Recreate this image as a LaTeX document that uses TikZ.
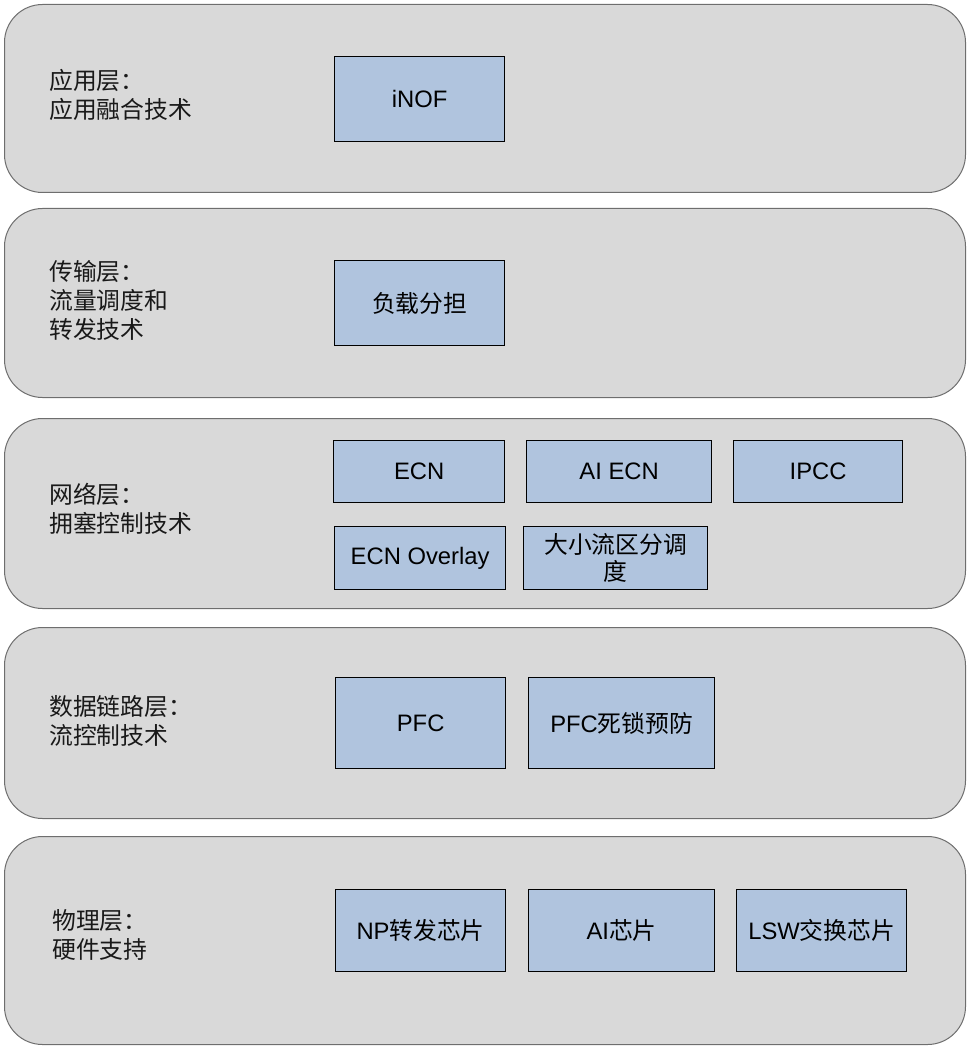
\documentclass[tikz,border=0pt]{standalone}
\usepackage{fontspec}
\setmainfont{Liberation Sans}
\newfontfamily\cjk{Noto Sans CJK SC}
\definecolor{layerfill}{HTML}{D9D9D9}
\definecolor{layerline}{HTML}{6E6E6E}
\definecolor{boxfill}{HTML}{B0C4DE}
\begin{document}
\begin{tikzpicture}[x=1pt,y=-1pt,
  layer/.style={draw=layerline,fill=layerfill,line width=1pt,rounded corners=38pt,anchor=north west,inner sep=0pt},
  techbox/.style={draw=black,fill=boxfill,line width=1.3pt,anchor=north west,inner sep=0pt,align=center,
    font=\fontsize{23.8}{27}\selectfont},
  lbl/.style={anchor=west,align=left,inner sep=0pt,text=black!90,font=\fontsize{23.8}{29}\selectfont\cjk}]
\useasboundingbox (0,0) rectangle (972,1048);
% layers
\node[layer,minimum width=961pt,minimum height=188pt] (L1) at (4,4) {};
\node[layer,minimum width=961pt,minimum height=189pt] (L2) at (4,208) {};
\node[layer,minimum width=961pt,minimum height=190pt] (L3) at (4,418) {};
\node[layer,minimum width=961pt,minimum height=191pt] (L4) at (4,627) {};
\node[layer,minimum width=961pt,minimum height=208pt] (L5) at (4,836) {};
% labels
\node[lbl] (T1) at (49,95) {应用层：\\应用融合技术};
\node[lbl] (T2) at (49,300) {传输层：\\流量调度和\\转发技术};
\node[lbl] (T3) at (49,509) {网络层：\\拥塞控制技术};
\node[lbl] (T4) at (49,721) {数据链路层：\\流控制技术};
\node[lbl] (T5) at (52,935) {物理层：\\硬件支持};
% boxes
\node[techbox,minimum width=170pt,minimum height=85pt] (iNOF) at (334,56) {iNOF};
\node[techbox,minimum width=170pt,minimum height=85pt] (LB) at (334,260) {\cjk 负载分担};
\node[techbox,minimum width=171pt,minimum height=62pt] (ECN) at (333,440) {ECN};
\node[techbox,minimum width=185pt,minimum height=62pt] (AIECN) at (526,440) {AI ECN};
\node[techbox,minimum width=169pt,minimum height=62pt] (IPCC) at (733,440) {IPCC};
\node[techbox,minimum width=171pt,minimum height=63pt] (ECNO) at (334,526) {ECN Overlay};
\node[techbox,minimum width=184pt,minimum height=63pt,font=\fontsize{23.8}{27}\selectfont\cjk] (ELE) at (523,526) {大小流区分调\\度};
\node[techbox,minimum width=170pt,minimum height=91pt] (PFC) at (335,677) {PFC};
\node[techbox,minimum width=186pt,minimum height=91pt] (PFCD) at (528,677) {PFC{\cjk 死锁预防}};
\node[techbox,minimum width=170pt,minimum height=82pt] (NP) at (335,889) {NP{\cjk 转发芯片}};
\node[techbox,minimum width=186pt,minimum height=82pt] (AI) at (528,889) {AI{\cjk 芯片}};
\node[techbox,minimum width=170pt,minimum height=82pt] (LSW) at (736,889) {LSW{\cjk 交换芯片}};
\end{tikzpicture}
\end{document}
